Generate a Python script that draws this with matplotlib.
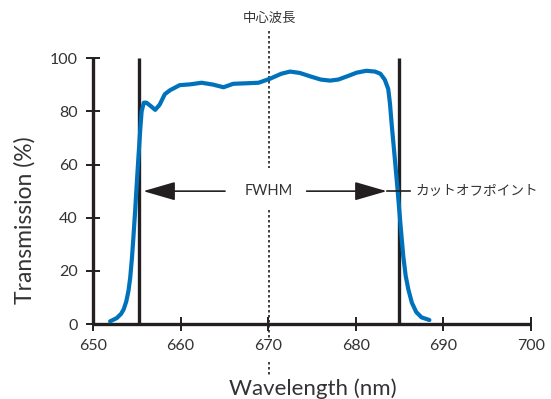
import matplotlib
matplotlib.use("Agg")
import matplotlib.pyplot as plt

plt.rcParams['font.family'] = ['Lato', 'Noto Sans CJK JP', 'DejaVu Sans']

# ---- data ----
wavelength = [651.95, 652.7, 653.2, 653.5, 653.8, 654.05, 654.25, 654.45, 654.6, 654.8,
              655.0, 655.2, 655.4, 655.55, 655.8, 656.1, 656.6, 657.1, 657.6, 658.2,
              658.8, 659.9, 661.1, 662.4, 663.7, 664.9, 666.0, 667.5, 668.9, 670.2,
              671.5, 672.5, 673.6, 674.8, 676.0, 677.05, 678.0, 679.0, 680.1, 681.2,
              682.2, 682.8, 683.3, 683.7, 683.9, 684.1, 684.47, 684.78, 685.1, 685.42,
              685.7, 686.0, 686.4, 686.9, 687.5, 688.4]
transmission = [1.0, 2.2, 3.8, 5.5, 8.5, 12.5, 17.5, 25.0, 32.0, 42.0,
                53.0, 63.5, 73.5, 80.0, 83.3, 83.3, 82.0, 80.6, 82.5, 86.5,
                88.0, 89.9, 90.2, 90.8, 90.1, 89.1, 90.4, 90.6, 90.8, 92.3,
                94.2, 95.0, 94.5, 93.2, 92.0, 91.6, 92.0, 93.2, 94.6, 95.3,
                95.0, 94.2, 92.0, 88.5, 83.0, 75.0, 61.7, 50.1, 37.5, 25.5,
                18.0, 13.0, 8.0, 4.5, 2.5, 1.5]

x_ticks = [650, 660, 670, 680, 690, 700]
y_ticks = [0, 20, 40, 60, 80, 100]

fwhm_left = 655.2
fwhm_right = 684.95
center_wl = 670.1
half_max = 50

center_label = "中心波長"
fwhm_label = "FWHM"
cutoff_label = "カットオフポイント"
x_label = "Wavelength (nm)"
y_label = "Transmission (%)"

# annotation geometry (data units)
left_arrow = (665.07, 655.74)      # tail, tip
right_arrow = (674.39, 683.53)     # tail, tip
cutoff_tick = (683.53, 686.19)
cutoff_text_x = 686.8
dotted_segments = [(110.3, 58.7), (42.9, -5.3), (-14.3, -19.2)]

# ---- style ----
ink = '#231f20'
txt = '#333333'
blue = '#0072bc'

fig = plt.figure(figsize=(5.51, 3.99), dpi=100)
ax = fig.add_axes([93/551, 75/399, 438/551, 265.7/399])

ax.set_xlim(650, 700)
ax.set_ylim(0, 100)

for s in ['top', 'right']:
    ax.spines[s].set_visible(False)
for s in ['left', 'bottom']:
    ax.spines[s].set_linewidth(2.4)
    ax.spines[s].set_color(ink)
    ax.spines[s].set_capstyle('butt')

ax.set_xticks(x_ticks)
ax.set_yticks(y_ticks)
ax.tick_params(axis='both', direction='inout', length=10, width=1.4, color=ink,
               labelsize=11.5, labelcolor=txt, pad=6)

# dotted center line (broken around labels)
for y0, y1 in dotted_segments:
    ax.plot([center_wl, center_wl], [y0, y1], color=ink, lw=1.2,
            linestyle=(0, (1.5, 1.5)), clip_on=False, zorder=2)

# FWHM vertical lines
for xv in (fwhm_left, fwhm_right):
    ax.plot([xv, xv], [0, 100], color=ink, lw=2.4, solid_capstyle='butt', zorder=3)

# transmission curve
ax.plot(wavelength, transmission, color=blue, lw=3.0, solid_joinstyle='round',
        solid_capstyle='round', zorder=4)

# arrows
astyle = dict(arrowstyle='-|>,head_length=20,head_width=5.8', color=ink, lw=1.2,
              shrinkA=0, shrinkB=0, mutation_scale=1)
ax.annotate('', xy=(left_arrow[1], half_max), xytext=(left_arrow[0], half_max),
            arrowprops=astyle, zorder=5)
ax.annotate('', xy=(right_arrow[1], half_max), xytext=(right_arrow[0], half_max),
            arrowprops=astyle, zorder=5)
ax.plot(list(cutoff_tick), [half_max, half_max], color=ink, lw=1.2, zorder=5)

ax.text(center_wl, half_max, fwhm_label, ha='center', va='center', fontsize=10.5,
        color=txt)
ax.text(cutoff_text_x, half_max, cutoff_label, ha='left', va='center', fontsize=9.8,
        color=txt, family=['Noto Sans CJK JP', 'DejaVu Sans'])
fig.text(270/551, (399-17.5)/399, center_label, ha='center', va='center', fontsize=9.6,
         color=txt, family=['Noto Sans CJK JP', 'DejaVu Sans'])

fig.text(312.5/551, (399-395)/399, x_label, ha='center', va='baseline', fontsize=16,
         color=txt)
fig.text(25/551, (399-220)/399, y_label, ha='center', va='center', rotation=90,
         fontsize=16.5, color=txt)

fig.savefig('out.png', dpi=100)
